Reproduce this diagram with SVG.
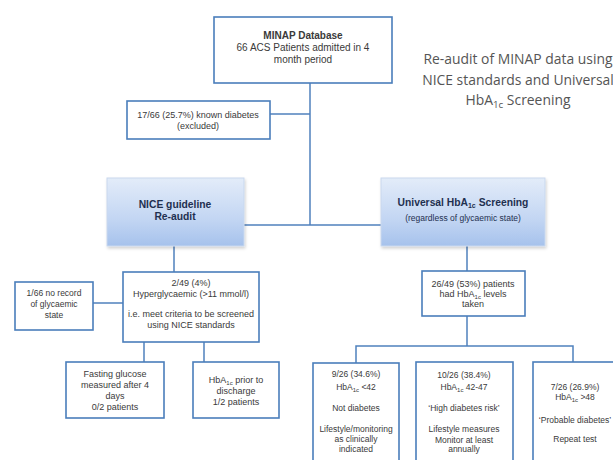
<svg xmlns="http://www.w3.org/2000/svg" width="613" height="460" viewBox="0 0 613 460">
<defs>
<linearGradient id="blueGrad" x1="0" y1="0" x2="0" y2="1">
<stop offset="0" stop-color="#e3ecf9"/>
<stop offset="0.6" stop-color="#c3d6f3"/>
<stop offset="1" stop-color="#a6c2ec"/>
</linearGradient>
<filter id="shadow" x="-10%" y="-10%" width="130%" height="140%">
<feDropShadow dx="1" dy="2" stdDeviation="1.5" flood-color="#000" flood-opacity="0.18"/>
</filter>
</defs>
<style>
.box{fill:#ffffff;stroke:#4a7ebb;stroke-width:1.6}
.hdr{fill:url(#blueGrad);stroke:#c9d8ee;stroke-width:1;filter:url(#shadow)}
.conn{stroke:#4f81bd;stroke-width:1.5;fill:none}
.t{font-family:"Liberation Sans",Arial,sans-serif;font-size:9px;fill:#3a3a3a;text-anchor:middle}
.s{font-size:8.5px}
.m{font-size:10px}
.b{font-weight:bold}
.h{font-family:"Liberation Sans",Arial,sans-serif;font-size:10.3px;font-weight:bold;fill:#1f3050;text-anchor:middle}
.hs{font-family:"Liberation Sans",Arial,sans-serif;font-size:8.5px;fill:#1f3050;text-anchor:middle}
.title{font-family:"Open Sans","Liberation Sans",sans-serif;font-size:13.9px;fill:#555555;text-anchor:middle}
.sub{font-size:70%}
</style>
<rect width="613" height="460" fill="#ffffff"/>

<g id="connectors">
<line class="conn" x1="310" y1="83" x2="310" y2="225"/>
<line class="conn" x1="270" y1="114" x2="310" y2="114"/>
<line class="conn" x1="244" y1="225" x2="381" y2="225"/>
<line class="conn" x1="174" y1="246" x2="174" y2="272"/>
<line class="conn" x1="467" y1="246" x2="467" y2="271"/>
<line class="conn" x1="93" y1="303" x2="123" y2="303"/>
<line class="conn" x1="144" y1="342" x2="144" y2="362"/>
<line class="conn" x1="204" y1="342" x2="204" y2="362"/>
<line class="conn" x1="467" y1="316" x2="467" y2="346"/>
<polyline class="conn" points="356,363 356,346 573,346 573,362"/>
</g>

<g id="title">
<text class="title" x="518" y="64">Re-audit of MINAP data using</text>
<text class="title" x="518" y="85">NICE standards and Universal</text>
<text class="title" x="518" y="105">HbA<tspan class="sub" dy="3">1c</tspan><tspan dy="-3"> Screening</tspan></text>
</g>

<g id="minap">
<rect class="box" x="214" y="17" width="178" height="66"/>
<text class="t m b" x="303" y="39">MINAP Database</text>
<text class="t m" x="303" y="51">66 ACS Patients admitted in 4</text>
<text class="t m" x="303" y="63">month period</text>
</g>

<g id="excluded">
<rect class="box" x="127" y="101" width="143" height="38"/>
<text class="t" x="198" y="118">17/66 (25.7%) known diabetes</text>
<text class="t" x="198" y="129">(excluded)</text>
</g>

<g id="nice">
<rect class="hdr" x="107" y="178" width="137" height="68"/>
<text class="h" x="175" y="208">NICE guideline</text>
<text class="h" x="175" y="220">Re-audit</text>
</g>

<g id="universal">
<rect class="hdr" x="381" y="178" width="164" height="68"/>
<text class="h" x="463" y="206">Universal HbA<tspan font-size="7" dy="2">1c</tspan><tspan dy="-2"> Screening</tspan></text>
<text class="hs" x="463" y="221">(regardless of glycaemic state)</text>
</g>

<g id="norecord">
<rect class="box" x="15" y="282" width="78" height="48"/>
<text class="t s" x="54" y="296">1/66 no record</text>
<text class="t s" x="54" y="307">of glycaemic</text>
<text class="t s" x="54" y="318">state</text>
</g>

<g id="hyper">
<rect class="box" x="123" y="272" width="136" height="70"/>
<text class="t" x="191" y="286">2/49 (4%)</text>
<text class="t" x="191" y="297">Hyperglycaemic (&gt;11 mmol/l)</text>
<text class="t" x="191" y="317">i.e. meet criteria to be screened</text>
<text class="t" x="191" y="328">using NICE standards</text>
</g>

<g id="fasting">
<rect class="box" x="66" y="362" width="98" height="56"/>
<text class="t" x="115" y="377">Fasting glucose</text>
<text class="t" x="115" y="388">measured after 4</text>
<text class="t" x="115" y="399">days</text>
<text class="t" x="115" y="410">0/2 patients</text>
</g>

<g id="hba-discharge">
<rect class="box" x="193" y="362" width="86" height="56"/>
<text class="t" x="236" y="383">HbA<tspan font-size="6" dy="2">1c</tspan><tspan dy="-2"> prior to</tspan></text>
<text class="t" x="236" y="394">discharge</text>
<text class="t" x="236" y="405">1/2 patients</text>
</g>

<g id="hba-taken">
<rect class="box" x="422" y="271" width="103" height="45"/>
<text class="t" x="473" y="287">26/49 (53%) patients</text>
<text class="t" x="473" y="297">had HbA<tspan font-size="6" dy="2">1c</tspan><tspan dy="-2"> levels</tspan></text>
<text class="t" x="473" y="307">taken</text>
</g>

<g id="not-diabetes">
<rect class="box" x="313" y="363" width="86" height="110"/>
<text class="t s" x="356" y="377">9/26 (34.6%)</text>
<text class="t s" x="356" y="390">HbA<tspan font-size="6" dy="2">1c</tspan><tspan dy="-2"> &lt;42</tspan></text>
<text class="t s" x="356" y="411">Not diabetes</text>
<text class="t s" x="356" y="432">Lifestyle/monitoring</text>
<text class="t s" x="356" y="442">as clinically</text>
<text class="t s" x="356" y="452">indicated</text>
</g>

<g id="high-risk">
<rect class="box" x="416" y="362" width="97" height="110"/>
<text class="t s" x="464" y="378">10/26 (38.4%)</text>
<text class="t s" x="464" y="390">HbA<tspan font-size="6" dy="2">1c</tspan><tspan dy="-2"> 42-47</tspan></text>
<text class="t s" x="464" y="411">‘High diabetes risk’</text>
<text class="t s" x="464" y="432">Lifestyle measures</text>
<text class="t s" x="464" y="443">Monitor at least</text>
<text class="t s" x="464" y="452">annually</text>
</g>

<g id="probable">
<rect class="box" x="533" y="362" width="100" height="110"/>
<text class="t s" x="575" y="390">7/26 (26.9%)</text>
<text class="t s" x="575" y="400">HbA<tspan font-size="6" dy="2">1c</tspan><tspan dy="-2"> &gt;48</tspan></text>
<text class="t s" x="575" y="423">‘Probable diabetes’</text>
<text class="t s" x="575" y="442">Repeat test</text>
</g>
</svg>
